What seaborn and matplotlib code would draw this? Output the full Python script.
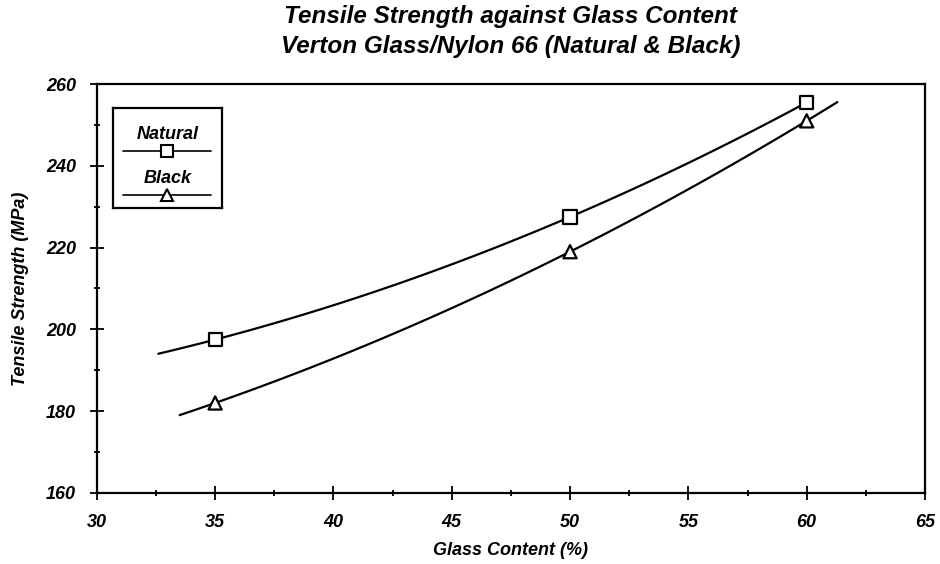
import numpy as np
import pandas as pd
import matplotlib
matplotlib.use('Agg')
import matplotlib.pyplot as plt
import seaborn as sns

# data
glass = [35, 50, 60]
natural = [197.5, 227.5, 255.5]
black = [182, 219, 251]
# span of the fitted curves
natural_span = (32.6, 60.0)
black_span = (33.5, 61.3)

sns.set_style('ticks')
plt.rcParams['font.family'] = ['Liberation Sans', 'DejaVu Sans']
plt.rcParams['font.style'] = 'italic'
plt.rcParams['font.weight'] = 'bold'
plt.rcParams['text.color'] = 'black'
plt.rcParams['axes.labelcolor'] = 'black'
plt.rcParams['xtick.color'] = 'black'
plt.rcParams['ytick.color'] = 'black'

fig = plt.figure(figsize=(9.4, 5.64), dpi=100)
ax = fig.add_axes([0.103, 0.126, 0.881, 0.725])

# quadratic trend lines from the points
def trend(y, span):
    c = np.polyfit(glass, y, 2)
    xs = np.linspace(span[0], span[1], 100)
    return pd.DataFrame({'x': xs, 'y': np.polyval(c, xs)})

nat_fit = trend(natural, natural_span)
blk_fit = trend(black, black_span)
sns.lineplot(data=nat_fit, x='x', y='y', color='black', lw=1.6, ax=ax)
sns.lineplot(data=blk_fit, x='x', y='y', color='black', lw=1.6, ax=ax)

pts = pd.DataFrame({'glass': glass * 2,
                    'strength': natural + black,
                    'type': ['Natural'] * 3 + ['Black'] * 3})
sns.scatterplot(data=pts, x='glass', y='strength', style='type',
                markers={'Natural': 's', 'Black': '^'}, s=90,
                facecolor='white', edgecolor='black', linewidth=1.6,
                legend=False, ax=ax, zorder=3)

ax.set_xlim(30, 65)
ax.set_ylim(160, 260)
ax.set_xticks(range(30, 66, 5))
ax.set_yticks(range(160, 261, 20))
ax.set_xticks(np.arange(32.5, 65, 5), minor=True)
ax.set_yticks(range(170, 260, 20), minor=True)
ax.tick_params(which='major', direction='inout', length=10, width=1.3, labelsize=13, pad=10)
ax.tick_params(which='minor', direction='inout', length=4, width=1.3)
for s in ax.spines.values():
    s.set_linewidth(1.6)
    s.set_color('black')

ax.set_xlabel('Glass Content (%)', fontsize=13, fontweight='bold', labelpad=8)
ax.set_ylabel('Tensile Strength (MPa)', fontsize=13, fontweight='bold', labelpad=12)
ax.set_title('Tensile Strength against Glass Content\nVerton Glass/Nylon 66 (Natural & Black)',
             fontsize=17.5, fontweight='bold', pad=22, linespacing=1.4)

# legend panel: label above a line with marker
leg = ax.inset_axes([0.019, 0.697, 0.132, 0.244])
leg.set_xlim(0, 1)
leg.set_ylim(0, 1)
leg.set_xticks([])
leg.set_yticks([])
for s in leg.spines.values():
    s.set_linewidth(1.6)
    s.set_color('black')
for label, mk, ty in [('Natural', 's', 0.74), ('Black', '^', 0.3)]:
    leg.text(0.5, ty, label, ha='center', va='center', fontsize=13, fontweight='bold')
    leg.plot([0.1, 0.9], [ty - 0.17] * 2, color='black', lw=1.2)
    leg.plot([0.5], [ty - 0.17], marker=mk, ms=8, mfc='white', mec='black', mew=1.5)

fig.savefig('out.png', dpi=100)
